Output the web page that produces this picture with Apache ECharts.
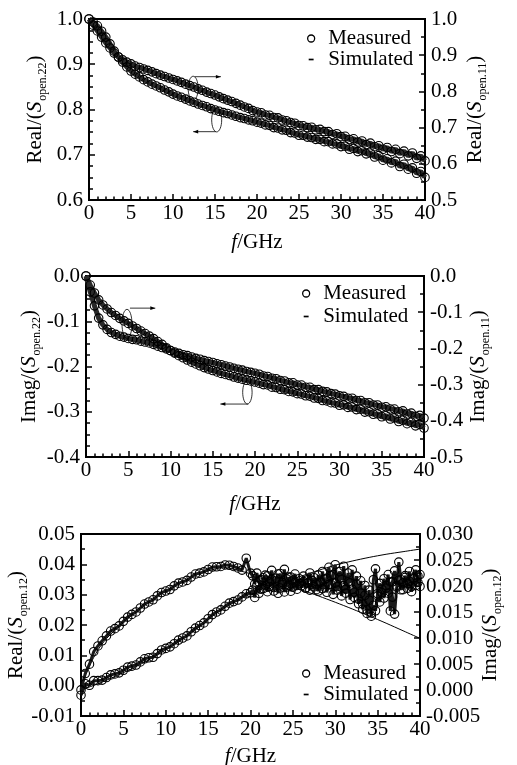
<!DOCTYPE html>
<html>
<head>
<meta charset="utf-8">
<script src="https://cdn.jsdelivr.net/npm/echarts@6/dist/echarts.min.js"></script>
<style>html,body{margin:0;padding:0;background:#fff}#c{width:517px;height:765px}</style>
</head>
<body>
<div id="c"></div>
<script>
// ---------- DATA ----------
const freqHalf = [0,0.5,1,1.5,2,2.5,3,3.5,4,4.5,5,5.5,6,6.5,7,7.5,8,8.5,9,9.5,10,10.5,11,11.5,12,12.5,13,13.5,14,14.5,15,15.5,16,16.5,17,17.5,18,18.5,19,19.5,20,20.5,21,21.5,22,22.5,23,23.5,24,24.5,25,25.5,26,26.5,27,27.5,28,28.5,29,29.5,30,30.5,31,31.5,32,32.5,33,33.5,34,34.5,35,35.5,36,36.5,37,37.5,38,38.5,39,39.5,40];
const freqSim = [0,1,2,3,4,5,6,8,10,12,14,16,18,20,22,24,26,28,30,32,34,36,38,40];

// Panel 1: Real(S_open.22) (left axis) and Real(S_open.11) (right axis)
const realS22Meas = [1.000,0.993,0.985,0.973,0.960,0.945,0.929,0.916,0.905,0.894,
 0.885,0.878,0.872,0.866,0.861,0.856,0.852,0.848,0.843,0.839,
 0.834,0.830,0.827,0.823,0.819,0.816,0.812,0.809,0.806,0.802,
 0.799,0.796,0.793,0.791,0.788,0.785,0.782,0.780,0.777,0.775,
 0.772,
 0.770,0.766,0.765,0.760,0.759,0.755,0.754,0.749,0.748,0.743,
 0.743,0.739,0.738,0.734,0.734,0.729,0.729,0.724,0.724,0.718,
 0.719,0.712,0.714,0.707,0.709,0.702,0.704,0.695,0.698,0.688,
 0.691,0.682,0.686,0.674,0.679,0.668,0.671,0.659,0.663,0.650];
const realS11Meas = [1.000,0.983,0.967,0.950,0.934,0.920,0.906,0.895,0.887,0.881,
 0.876,0.870,0.866,0.862,0.858,0.854,0.849,0.845,0.841,0.837,
 0.833,0.829,0.825,0.820,0.816,0.812,0.807,0.803,0.798,0.794,
 0.790,0.785,0.780,0.776,0.772,0.767,0.762,0.757,0.753,0.747,
 0.743,
 0.741,0.735,0.734,0.728,0.727,0.721,0.719,0.714,0.712,0.706,
 0.705,0.700,0.701,0.694,0.695,0.689,0.689,0.681,0.683,0.675,
 0.676,0.667,0.669,0.660,0.663,0.653,0.657,0.647,0.650,0.640,
 0.645,0.634,0.640,0.628,0.635,0.622,0.630,0.615,0.622,0.608];
const realS22Sim = [1.000,0.985,0.960,0.929,0.905,0.885,0.872,0.852,0.834,0.819,0.806,0.793,0.782,0.772,0.761,0.750,0.740,0.730,0.720,0.709,0.698,0.685,0.672,0.653];
const realS11Sim = [1.000,0.967,0.934,0.906,0.887,0.876,0.866,0.849,0.833,0.816,0.798,0.780,0.762,0.743,0.729,0.715,0.702,0.691,0.677,0.663,0.650,0.638,0.627,0.613];

// Panel 2: Imag(S_open.22) (left axis) and Imag(S_open.11) (right axis)
const imagS22Meas = [0,-0.035,-0.066,-0.093,-0.108,-0.118,-0.125,-0.129,-0.133,-0.135,
 -0.138,-0.140,-0.141,-0.144,-0.146,-0.148,-0.151,-0.155,-0.158,-0.161,
 -0.165,-0.168,-0.171,-0.174,-0.176,-0.179,-0.182,-0.184,-0.187,-0.189,
 -0.191,-0.194,-0.196,-0.199,-0.201,-0.204,-0.206,-0.208,-0.211,-0.213,
 -0.215,
 -0.217,-0.221,-0.222,-0.226,-0.227,-0.231,-0.232,-0.236,-0.236,-0.241,
 -0.241,-0.246,-0.246,-0.251,-0.251,-0.255,-0.256,-0.260,-0.261,-0.265,
 -0.266,-0.270,-0.270,-0.275,-0.275,-0.280,-0.280,-0.285,-0.285,-0.290,
 -0.289,-0.294,-0.294,-0.300,-0.298,-0.305,-0.303,-0.310,-0.308,-0.314];
const imagS11Meas = [0,-0.025,-0.047,-0.066,-0.080,-0.091,-0.101,-0.109,-0.117,-0.124,
 -0.131,-0.138,-0.145,-0.152,-0.159,-0.166,-0.173,-0.181,-0.189,-0.198,
 -0.206,-0.213,-0.220,-0.226,-0.232,-0.238,-0.243,-0.248,-0.253,-0.257,
 -0.261,-0.265,-0.269,-0.272,-0.275,-0.279,-0.282,-0.285,-0.288,-0.290,
 -0.293,
 -0.296,-0.300,-0.301,-0.307,-0.308,-0.313,-0.314,-0.319,-0.320,-0.325,
 -0.326,-0.331,-0.332,-0.337,-0.338,-0.344,-0.345,-0.350,-0.351,-0.357,
 -0.356,-0.363,-0.362,-0.369,-0.368,-0.376,-0.375,-0.382,-0.381,-0.389,
 -0.386,-0.395,-0.392,-0.402,-0.398,-0.408,-0.404,-0.414,-0.410,-0.420];
const imagS22Sim = [0,-0.066,-0.108,-0.125,-0.133,-0.138,-0.141,-0.151,-0.165,-0.176,-0.187,-0.196,-0.206,-0.215,-0.225,-0.235,-0.245,-0.254,-0.264,-0.274,-0.284,-0.293,-0.303,-0.313];
const imagS11Sim = [0,-0.047,-0.080,-0.101,-0.117,-0.131,-0.145,-0.173,-0.206,-0.232,-0.253,-0.269,-0.282,-0.293,-0.306,-0.318,-0.330,-0.343,-0.355,-0.367,-0.380,-0.392,-0.405,-0.417];

// Panel 3: Real(S_open.12) (left axis) and Imag(S_open.12) (right axis)
const freq3 = [0,0.5,1,1.5,2,2.5,3,3.5,4,4.5,5,5.5,6,6.5,7,7.5,8,8.5,9,9.5,10,10.5,11,11.5,12,12.5,13,13.5,14,14.5,15,15.5,16,16.5,17,17.5,18,18.5,19,19.5,20,
 20.25,20.5,20.75,21,21.25,21.5,21.75,22,22.25,22.5,22.75,23,23.25,23.5,23.75,24,24.25,24.5,24.75,25,25.25,25.5,25.75,26,26.25,26.5,26.75,27,27.25,27.5,27.75,28,28.25,28.5,28.75,29,29.25,29.5,29.75,30,
 30.25,30.5,30.75,31,31.25,31.5,31.75,32,32.25,32.5,32.75,33,33.25,33.5,33.75,34,34.25,34.5,34.75,35,35.25,35.5,35.75,36,36.25,36.5,36.75,37,37.25,37.5,37.75,38,38.25,38.5,38.75,39,39.25,39.5,39.75,40];
const realS12Meas = [-0.0014,0.0040,0.0071,0.0112,0.0131,0.0148,0.0164,0.0180,0.0188,0.0197,
 0.0212,0.0226,0.0235,0.0243,0.0256,0.0269,0.0276,0.0283,0.0296,0.0307,
 0.0312,0.0317,0.0329,0.0338,0.0342,0.0347,0.0358,0.0368,0.0371,0.0375,
 0.0383,0.0391,0.0392,0.0393,0.0398,0.0397,0.0393,0.0388,0.0381,0.0420,
 0.0371,
 0.0362,0.0335,0.0371,0.0342,0.0318,0.0356,0.0330,0.0362,0.0327,0.0349,
 0.0312,0.0345,0.0368,0.0322,0.0340,0.0309,0.0352,0.0331,0.0358,0.0325,
 0.0340,0.0318,0.0336,0.0329,0.0343,0.0322,0.0338,0.0315,0.0347,0.0326,
 0.0335,0.0312,0.0344,0.0320,0.0351,0.0308,0.0334,0.0362,0.0301,0.0338,
 0.0315,0.0355,0.0296,0.0329,0.0305,0.0342,0.0284,0.0318,0.0291,0.0335,
 0.0270,0.0305,0.0252,0.0298,0.0238,0.0282,0.0229,0.0265,0.0247,0.0303,
 0.0276,0.0318,0.0289,0.0330,0.0305,0.0342,0.0292,0.0236,0.0325,0.0348,
 0.0316,0.0339,0.0357,0.0321,0.0344,0.0310,0.0352,0.0330,0.0362,0.0327];
const imagS12Meas = [-0.0010,0.0012,0.0009,0.0018,0.0018,0.0019,0.0024,0.0029,0.0031,0.0033,
 0.0038,0.0044,0.0046,0.0048,0.0054,0.0060,0.0062,0.0063,0.0070,0.0077,
 0.0080,0.0083,0.0089,0.0096,0.0100,0.0104,0.0112,0.0119,0.0124,0.0129,
 0.0137,0.0145,0.0150,0.0154,0.0161,0.0167,0.0170,0.0173,0.0179,0.0185,
 0.0187,
 0.0192,0.0178,0.0201,0.0186,0.0212,0.0195,0.0221,0.0189,0.0208,0.0230,
 0.0197,0.0215,0.0186,0.0224,0.0203,0.0232,0.0198,0.0217,0.0190,0.0211,
 0.0223,0.0201,0.0214,0.0205,0.0219,0.0196,0.0212,0.0225,0.0203,0.0216,
 0.0193,0.0221,0.0207,0.0228,0.0198,0.0215,0.0236,0.0203,0.0222,0.0241,
 0.0199,0.0228,0.0212,0.0238,0.0194,0.0225,0.0206,0.0231,0.0188,0.0219,
 0.0175,0.0210,0.0165,0.0201,0.0154,0.0192,0.0148,0.0212,0.0233,0.0181,
 0.0205,0.0187,0.0214,0.0196,0.0222,0.0152,0.0208,0.0229,0.0201,0.0246,
 0.0212,0.0193,0.0220,0.0205,0.0228,0.0199,0.0216,0.0231,0.0207,0.0222];
const freqRealS12Sim = [0,1,2,3,4,5,6,7,8,10,12,14,16,17,18,20,22,24,26,28,30,32,34,36,38,40];
const realS12Sim = [0,0.0065,0.0118,0.0155,0.0183,0.0208,0.0232,0.0255,0.0276,0.0313,0.0344,0.0369,0.0386,0.0389,0.0384,0.0369,0.0353,0.0335,0.0316,0.0296,0.0275,0.0253,0.0230,0.0206,0.0181,0.0156];
const freqImagS12Sim = [0,2,4,6,8,10,12,14,16,18,20,22,24,26,28,30,32,34,36,38,40];
const imagS12Sim = [0,0.0012,0.0026,0.0041,0.0058,0.0077,0.0098,0.0122,0.0148,0.0168,0.0185,0.0198,0.0209,0.0219,0.0230,0.0240,0.0248,0.0255,0.0261,0.0266,0.0271];

const xTicks = [0,5,10,15,20,25,30,35,40];

// ---------- STYLE / OPTION ----------
const FONT = '"Liberation Serif","Times New Roman",serif';
const FS = 21;
const pair = (xs, ys) => xs.map((x, i) => [x, ys[i]]);

function xAxisCfg(gi, nameGap) {
  return {
    gridIndex: gi, type: 'value', min: xTicks[0], max: xTicks[xTicks.length - 1], interval: xTicks[1] - xTicks[0],
    name: '{i|f}/GHz', nameLocation: 'middle', nameGap: nameGap, nameMoveOverlap: false,
    nameTextStyle: { fontFamily: FONT, fontSize: FS, color: '#000',
      rich: { i: { fontFamily: FONT, fontSize: FS, fontStyle: 'italic', color: '#000' } } },
    axisLine: { show: true, onZero: false, lineStyle: { color: '#000', width: 2 } },
    axisTick: { show: true, inside: true, length: 6, lineStyle: { color: '#000', width: 1.5 } },
    minorTick: { show: true, splitNumber: 5, length: 3.5, lineStyle: { color: '#000', width: 1.5 } },
    axisLabel: { fontFamily: FONT, fontSize: FS, color: '#000', margin: 3 },
    splitLine: { show: false }
  };
}
function yAxisCfg(gi, pos, min, max, interval, minorSplit, dec, sub, kind, nameGap) {
  return {
    gridIndex: gi, type: 'value', position: pos, min: min, max: max, interval: interval,
    name: '{a|' + kind + '/(}{s|S}{b|' + sub + '}{a|)}', nameLocation: 'middle', nameRotate: 90, nameGap: nameGap,
    nameMoveOverlap: false,
    nameTextStyle: { fontFamily: FONT, fontSize: FS, color: '#000',
      rich: {
        a: { fontFamily: FONT, fontSize: FS, color: '#000', lineHeight: 26, verticalAlign: 'top' },
        s: { fontFamily: FONT, fontSize: FS, color: '#000', fontStyle: 'italic', lineHeight: 26, verticalAlign: 'top' },
        b: { fontFamily: FONT, fontSize: 12, color: '#000', lineHeight: 12, verticalAlign: 'top', padding: [12, 0, 0, 1] }
      } },
    axisLine: { show: true, onZero: false, lineStyle: { color: '#000', width: 2 } },
    axisTick: { show: true, inside: true, length: 6, lineStyle: { color: '#000', width: 1.5 } },
    minorTick: { show: true, splitNumber: minorSplit, length: 4, lineStyle: { color: '#000', width: 1.5 } },
    axisLabel: { fontFamily: FONT, fontSize: FS, color: '#000', margin: 6, formatter: v => v.toFixed(dec) },
    splitLine: { show: false }
  };
}
function measSeries(gi, yi, xs, ys, lw, lc) {
  return { name: 'Measured', type: 'line', xAxisIndex: gi, yAxisIndex: yi, data: pair(xs, ys),
    symbol: 'circle', symbolSize: 8.5, showSymbol: true, showAllSymbol: true,
    itemStyle: { color: 'rgba(0,0,0,0)', borderColor: '#000', borderWidth: 1.1 },
    lineStyle: { color: lc, width: lw }, emphasis: { disabled: true }, z: 3 };
}
function simSeries(gi, yi, xs, ys) {
  return { name: 'Simulated', type: 'line', xAxisIndex: gi, yAxisIndex: yi, data: pair(xs, ys),
    showSymbol: false, smooth: 0.3, itemStyle: { color: '#000' },
    lineStyle: { color: '#000', width: 1 }, emphasis: { disabled: true }, z: 2 };
}
function legendCfg(left, top, lh) {
  return { left: left, top: top, orient: 'vertical', itemWidth: 24, itemHeight: 7, itemGap: 0, padding: 0,
    selectedMode: false,
    textStyle: { fontFamily: FONT, fontSize: FS, color: '#000', lineHeight: lh },
    data: [
      { name: 'Measured', icon: 'circle', itemStyle: { color: 'rgba(0,0,0,0)', borderColor: '#000', borderWidth: 1.3 } },
      { name: 'Simulated', icon: 'path://M0,0M10,10M1.5,3.8L8.5,3.8L8.5,6.2L1.5,6.2Z', itemStyle: { color: '#000', borderWidth: 0 } }
    ] };
}
const gridBase = { show: true, borderColor: '#000', borderWidth: 2, backgroundColor: 'rgba(0,0,0,0)', containLabel: false, outerBoundsMode: 'none' };

const option = {
  animation: false,
  backgroundColor: '#fff',
  textStyle: { fontFamily: FONT },
  grid: [
    Object.assign({ left: 89, top: 19, width: 336, height: 181 }, gridBase),
    Object.assign({ left: 86, top: 276, width: 338, height: 181 }, gridBase),
    Object.assign({ left: 81, top: 534, width: 339, height: 182 }, gridBase)
  ],
  xAxis: [xAxisCfg(0, 32), xAxisCfg(1, 37), xAxisCfg(2, 30)],
  yAxis: [
    yAxisCfg(0, 'left', 0.6, 1.0, 0.1, 4, 1, 'open.22', 'Real', 38),
    yAxisCfg(0, 'right', 0.5, 1.0, 0.1, 2, 1, 'open.11', 'Real', 40),
    yAxisCfg(1, 'left', -0.4, 0, 0.1, 4, 1, 'open.22', 'Imag', 41),
    yAxisCfg(1, 'right', -0.5, 0, 0.1, 2, 1, 'open.11', 'Imag', 44),
    yAxisCfg(2, 'left', -0.01, 0.05, 0.01, 2, 2, 'open.12', 'Real', 49),
    yAxisCfg(2, 'right', -0.005, 0.03, 0.005, 2, 3, 'open.12', 'Imag', 60)
  ],
  legend: [legendCfg(307, 28, 21), legendCfg(302, 282, 23), legendCfg(302, 663, 21)],
  series: [
    simSeries(0, 0, freqSim, realS22Sim), simSeries(0, 1, freqSim, realS11Sim),
    measSeries(0, 0, freqHalf, realS22Meas, 5, '#2a2a2a'), measSeries(0, 1, freqHalf, realS11Meas, 5, '#2a2a2a'),
    simSeries(1, 2, freqSim, imagS22Sim), simSeries(1, 3, freqSim, imagS11Sim),
    measSeries(1, 2, freqHalf, imagS22Meas, 5, '#2a2a2a'), measSeries(1, 3, freqHalf, imagS11Meas, 5, '#2a2a2a'),
    simSeries(2, 4, freqRealS12Sim, realS12Sim), simSeries(2, 5, freqImagS12Sim, imagS12Sim),
    measSeries(2, 4, freq3, realS12Meas, 3, '#1a1a1a'), measSeries(2, 5, freq3, imagS12Meas, 3, '#1a1a1a')
  ]
};

const chart = echarts.init(document.getElementById('c'), null, { renderer: 'canvas' });
chart.setOption(option);

// ---------- ANNOTATIONS (ellipse + arrow pointing to the axis of each curve) ----------
// [panel, ellipse centre f, ellipse centre value (left axis), rx, ry, arrow f0, arrow f1, arrow value, direction]
const annotations = [
  [0, 12.4, 0.847, 5, 12, 12.6, 15.7, 0.8725, 1],
  [0, 15.2, 0.777, 5, 12, 15.1, 12.4, 0.751, -1],
  [1, 4.85, -0.1057, 5, 14.5, 5.2, 8.2, -0.071, 1],
  [1, 19.1, -0.257, 4.7, 11.7, 19.2, 15.9, -0.283, -1]
];
const graphics = [];
annotations.forEach(a => {
  const finder = { xAxisIndex: a[0], yAxisIndex: a[0] * 2 };
  const c = chart.convertToPixel(finder, [a[1], a[2]]);
  const p0 = chart.convertToPixel(finder, [a[5], a[7]]);
  const p1 = chart.convertToPixel(finder, [a[6], a[7]]);
  const d = a[8];
  graphics.push({ type: 'ellipse', shape: { cx: c[0], cy: c[1], rx: a[3], ry: a[4] }, style: { fill: 'none', stroke: '#000', lineWidth: 0.8 }, z: 10 });
  graphics.push({ type: 'line', shape: { x1: p0[0], y1: p0[1], x2: p1[0], y2: p1[1] }, style: { stroke: '#000', lineWidth: 0.8 }, z: 10 });
  graphics.push({ type: 'polygon', shape: { points: [[p1[0], p1[1]], [p1[0] - 5 * d, p1[1] - 1.8], [p1[0] - 5 * d, p1[1] + 1.8]] }, style: { fill: '#000' }, z: 10 });
});
chart.setOption({ graphic: graphics });
</script>
</body>
</html>
